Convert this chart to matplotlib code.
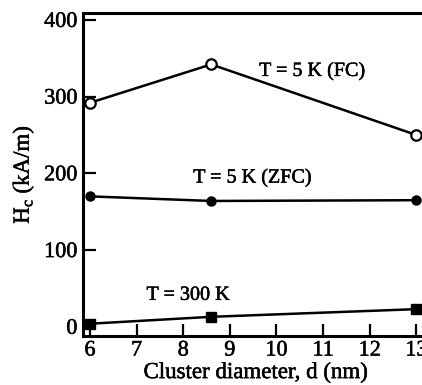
import matplotlib
matplotlib.use("Agg")
import matplotlib.pyplot as plt
import matplotlib.patheffects as pe

# cluster diameters (nm) and coercive field Hc (kA/m)
d = [6, 8.6, 13]
hc_fc = [292, 342, 250]
hc_zfc = [170, 164, 165]
hc_300 = [4, 13, 23]

plt.rcParams["font.family"] = "Liberation Serif"
heavy = [pe.withStroke(linewidth=0.35, foreground="black")]

fig = plt.figure(figsize=(4.22, 3.85), dpi=100)
ax = fig.add_axes([83 / 422, 1 - 336 / 385, 345 / 422, 323 / 385])

ax.plot(d, hc_fc, "-o", color="black", lw=1.8, ms=7.5, mfc="white", mew=1.6)
ax.plot(d, hc_zfc, "-o", color="black", lw=1.8, ms=6.5)
ax.plot(d, hc_300, "-s", color="black", lw=1.8, ms=7)

ax.text(10.76, 333, "T = 5 K (FC)", fontsize=14.5, ha="center", va="center", path_effects=heavy)
ax.text(9.48, 194, "T = 5 K (ZFC)", fontsize=14.5, ha="center", va="center", path_effects=heavy)
ax.text(8.1, 41, "T = 300 K", fontsize=14.5, ha="center", va="center", path_effects=heavy)

ax.set_xlim(5.85, 13.25)
ax.set_ylim(-12, 409)
ax.set_xticks(range(6, 14))
ax.set_yticks([0, 100, 200, 300, 400])
ax.tick_params(direction="in", length=9, width=1.6, labelsize=16, pad=4)
for lab in ax.get_xticklabels() + ax.get_yticklabels():
    lab.set_path_effects(heavy)
for s in ["left", "bottom", "top"]:
    ax.spines[s].set_linewidth(2.2)
ax.spines["right"].set_visible(False)

ax.set_xlabel("Cluster diameter, d (nm)", fontsize=16.5, labelpad=1, path_effects=heavy)
ax.set_ylabel("H$_\\mathregular{c}$ (kA/m)", fontsize=16.5, labelpad=6, path_effects=heavy)

fig.savefig("out.png", dpi=100)
